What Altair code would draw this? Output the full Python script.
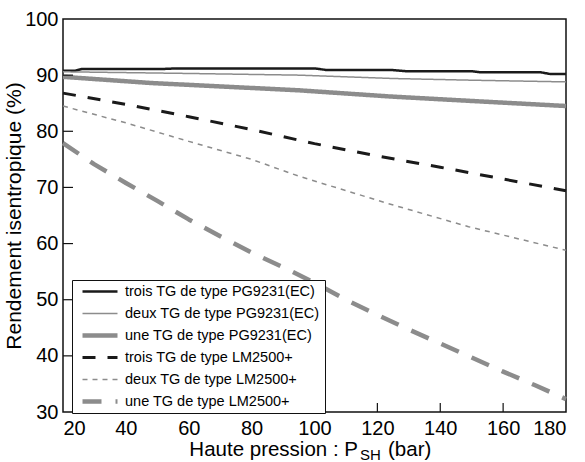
import altair as alt
import pandas as pd

series_names = [
    "trois TG de type PG9231(EC)",
    "deux TG de type PG9231(EC)",
    "une TG de type PG9231(EC)",
    "trois TG de type LM2500+",
    "deux TG de type LM2500+",
    "une TG de type LM2500+",
]

x_s1 = [20, 24, 26, 52, 56, 100, 104, 125, 129, 150, 153, 172, 175, 180]
y_s1 = [90.8, 90.8, 91.1, 91.1, 91.2, 91.2, 90.9, 90.9, 90.7, 90.7, 90.5, 90.5, 90.2, 90.2]

x_s2 = [20, 60, 95, 125, 150, 180]
y_s2 = [90.6, 90.3, 90.0, 89.4, 89.1, 88.8]

x_s3 = [20, 48, 95, 124, 150, 180]
y_s3 = [89.7, 88.6, 87.3, 86.2, 85.4, 84.5]

x_s4 = [20, 40, 60, 80, 100, 120, 140, 160, 180]
y_s4 = [86.8, 84.8, 82.6, 80.3, 77.8, 75.6, 73.6, 71.5, 69.4]

x_s5 = [20, 40, 60, 80, 95, 123, 149, 180]
y_s5 = [84.5, 81.5, 78.2, 75.0, 72.0, 67.2, 63.0, 58.8]

x_s6 = [20, 30, 40, 50, 60, 70, 80, 90, 100, 110, 120, 130, 140, 150, 160, 170, 180]
y_s6 = [77.9, 74.1, 70.8, 67.6, 64.3, 61.3, 58.4, 55.8, 53.0, 50.0, 47.3, 44.7,
        42.2, 39.7, 37.2, 34.8, 32.3]

x_ticks = [40, 60, 80, 100, 120, 140, 160]
y_ticks = [40, 50, 60, 70, 80, 90]

colors = ["#1a1a1a", "#8c8c8c", "#8c8c8c", "#1a1a1a", "#8c8c8c", "#8c8c8c"]
widths = [2.5, 1.5, 4.5, 3, 1.5, 4.5]
dashes = [[1, 0], [1, 0], [1, 0], [13, 12], [5, 5], [19, 14]]

rows = []
for name, xs, ys in zip(series_names,
                        [x_s1, x_s2, x_s3, x_s4, x_s5, x_s6],
                        [y_s1, y_s2, y_s3, y_s4, y_s5, y_s6]):
    for i, (a, b) in enumerate(zip(xs, ys)):
        rows.append({"serie": name, "p": a, "eta": b, "ordre": i})
df = pd.DataFrame(rows)

FONT = "Liberation Sans"
W, H = 503, 393

xscale = alt.Scale(domain=[20, 180], nice=False)
yscale = alt.Scale(domain=[30, 100], nice=False)

lines = alt.Chart(df).mark_line(strokeCap="butt", strokeJoin="round").encode(
    x=alt.X("p:Q", scale=xscale,
            axis=alt.Axis(values=[20, 40, 60, 80, 100, 120, 140, 160, 180],
                          title=None, labelPadding=6)),
    y=alt.Y("eta:Q", scale=yscale,
            axis=alt.Axis(values=[30, 40, 50, 60, 70, 80, 90, 100],
                          title="Rendement isentropique (%)",
                          labelPadding=5, titlePadding=0, titleFontSize=21)),
    color=alt.Color("serie:N", scale=alt.Scale(domain=series_names, range=colors),
                    legend=alt.Legend(
                        title=None, orient="none", legendX=9, legendY=261,
                        symbolType="stroke", symbolSize=1225, clipHeight=13,
                        rowPadding=7, padding=5, symbolOffset=3, labelOffset=5,
                        labelFontSize=14.5, labelFont=FONT, labelColor="black",
                        labelLimit=400, fillColor="white", strokeColor="#111",
                        symbolFillColor="transparent")),
    strokeWidth=alt.StrokeWidth("serie:N",
                                scale=alt.Scale(type="ordinal", domain=series_names,
                                                range=widths),
                                legend=alt.Legend(title=None)),
    strokeDash=alt.StrokeDash("serie:N",
                              scale=alt.Scale(domain=series_names, range=dashes),
                              legend=alt.Legend(title=None)),
    detail="serie:N",
    order="ordre:Q",
)

xt = alt.Chart(pd.DataFrame({"p": x_ticks})).mark_rule(color="#111", strokeWidth=1.2).encode(
    x=alt.X("p:Q", scale=xscale),
    y=alt.value(H),
    y2=alt.value(H - 9),
)
yt = alt.Chart(pd.DataFrame({"eta": y_ticks})).mark_rule(color="#111", strokeWidth=1.2).encode(
    y=alt.Y("eta:Q", scale=yscale),
    x=alt.value(0),
    x2=alt.value(10),
)

t1 = alt.Chart(pd.DataFrame({"t": ["Haute pression : P"]})).mark_text(
    align="right", baseline="alphabetic", fontSize=20.5, font=FONT, color="black"
).encode(text="t:N", x=alt.value(295), y=alt.value(437))
t2 = alt.Chart(pd.DataFrame({"t": ["SH"]})).mark_text(
    align="left", baseline="alphabetic", fontSize=15, font=FONT, color="black"
).encode(text="t:N", x=alt.value(297), y=alt.value(441))
t3 = alt.Chart(pd.DataFrame({"t": ["(bar)"]})).mark_text(
    align="left", baseline="alphabetic", fontSize=20.5, font=FONT, color="black"
).encode(text="t:N", x=alt.value(325), y=alt.value(437))

chart = alt.layer(lines, xt, yt, t1, t2, t3).properties(
    width=W, height=H,
    autosize=alt.AutoSizeParams(type="none"),
    padding={"left": 63, "top": 19, "right": 19, "bottom": 50},
    background="white",
).configure_view(
    stroke="#111", strokeWidth=1.5
).configure_axis(
    grid=False, domain=False, ticks=False, tickSize=0,
    labelFont=FONT, labelFontSize=20, labelColor="black",
    titleFont=FONT, titleFontSize=20, titleColor="black", titleFontWeight="normal",
)

chart.save("out.html", embed_options={"renderer": "svg", "actions": False})
